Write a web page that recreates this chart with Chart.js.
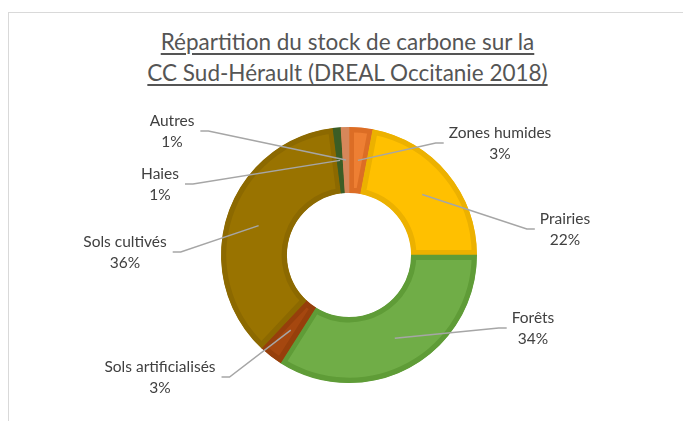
<!DOCTYPE html>
<html lang="fr">
<head>
<meta charset="UTF-8">
<title>Répartition du stock de carbone sur la CC Sud-Hérault</title>
<script src="https://cdn.jsdelivr.net/npm/chart.js"></script>
<style>
  body { margin: 0; background: #fff; font-family: Lato, sans-serif; }
  #wrap { position: relative; width: 683px; height: 421px; overflow: hidden; }
  .frame {
    position: absolute; left: 8px; top: 12px; width: 800px; height: 500px;
    border-top: 1px solid #d9d9d9; border-left: 1px solid #d9d9d9;
  }
  h1 {
    position: absolute; left: 6px; top: 26px; width: 683px; margin: 0;
    text-align: center; font-weight: normal; font-size: 22.5px; line-height: 31px;
    color: #555; text-decoration: underline; text-underline-offset: 3px;
    text-decoration-thickness: 1.5px;
  }
  canvas { position: absolute; left: 0; top: 0; }
</style>
</head>
<body>
<div id="wrap">
  <div class="frame"></div>
  <h1>Répartition du stock de carbone sur la<br>CC Sud-Hérault (DREAL Occitanie 2018)</h1>
  <canvas id="carbonChart" width="683" height="421"></canvas>
</div>

<script>
// categories, clockwise from 12 o'clock
const categories = ['Zones humides', 'Prairies', 'Forêts', 'Sols artificialisés', 'Sols cultivés', 'Haies', 'Autres'];
// share of carbon stock (%)
const shares = [3, 22, 34, 3, 36, 1, 1];

const fillColors = ['#ee7f33', '#ffc000', '#70ad47', '#a5470f', '#997300', '#43682b', '#e2935f'];
const edgeColors = ['#dc6d25', '#ecb100', '#5f9c37', '#963f0b', '#8c6900', '#3b5d25', '#d6875a'];

// label block centres, relative to the doughnut centre (layout only)
const labelPos = [[151, -122], [216, -36], [184, 63], [-189, 112], [-224, -13], [-189, -81], [-177, -134]];

const leaderLabels = {
    id: 'leaderLabels',
    afterDatasetsDraw(chart) {
        const ctx = chart.ctx;
        const arcs = chart.getDatasetMeta(0).data;
        const total = shares.reduce((a, b) => a + b, 0);
        ctx.save();
        ctx.font = '15.5px Lato';
        arcs.forEach((arc, i) => {
            const p = arc.getProps(['x', 'y', 'startAngle', 'endAngle', 'innerRadius', 'outerRadius']);
            const mid = (p.startAngle + p.endAngle) / 2;
            const r = (p.innerRadius + p.outerRadius) / 2;
            const ix = p.x + r * Math.cos(mid);
            const iy = p.y + r * Math.sin(mid);

            const line1 = categories[i];
            const line2 = Math.round(shares[i] / total * 100) + '%';
            const tx = p.x + labelPos[i][0];
            const ty = p.y + labelPos[i][1];
            const w = Math.max(ctx.measureText(line1).width, ctx.measureText(line2).width);
            const right = labelPos[i][0] > 0;
            const hx = right ? tx - w / 2 - 5 : tx + w / 2 + 6;
            const ex = right ? hx - 8 : hx + 8;
            const ey = ty + 10;

            ctx.strokeStyle = '#a6a6a6';
            ctx.lineWidth = 1.5;
            ctx.beginPath();
            ctx.moveTo(ix, iy);
            ctx.lineTo(ex, ey);
            ctx.lineTo(hx, ey);
            ctx.stroke();

            ctx.fillStyle = '#404040';
            ctx.textAlign = 'center';
            ctx.textBaseline = 'middle';
            ctx.fillText(line1, tx, ty);
            ctx.fillText(line2, tx, ty + 21);
        });
        ctx.restore();
    }
};

new Chart(document.getElementById('carbonChart'), {
    type: 'doughnut',
    data: {
        labels: categories,
        datasets: [{
            data: shares,
            backgroundColor: fillColors,
            borderColor: edgeColors,
            borderWidth: 5,
            borderAlign: 'inner',
            hoverOffset: 0
        }]
    },
    options: {
        responsive: false,
        devicePixelRatio: 1,
        animation: false,
        radius: 128,
        cutout: '48.5%',
        layout: { padding: { left: 15, right: 0, top: 89, bottom: 0 } },
        plugins: {
            legend: { display: false },
            tooltip: { enabled: false }
        }
    },
    plugins: [leaderLabels]
});
</script>
</body>
</html>
